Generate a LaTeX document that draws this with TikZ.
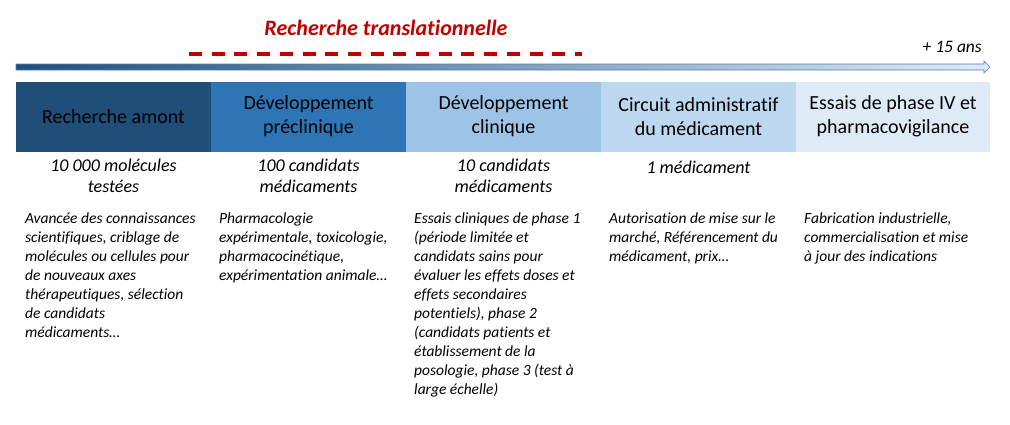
\documentclass[tikz,border=0pt]{standalone}
\usepackage{fontspec}
\setmainfont{Carlito}[Ligatures=NoCommon,Contextuals=NoAlternate]
\usetikzlibrary{positioning}
\definecolor{navy}{RGB}{31,78,121}
\definecolor{midblue}{RGB}{46,117,182}
\definecolor{skyblue}{RGB}{157,195,230}
\definecolor{paleblue}{RGB}{189,215,238}
\definecolor{iceblue}{RGB}{222,235,247}
\definecolor{barline}{RGB}{79,129,189}
\definecolor{darkred}{RGB}{192,0,0}
\begin{document}
\begin{tikzpicture}[x=1pt,y=-1pt,
	phase/.style={minimum width=195pt,minimum height=70pt,inner sep=0pt,outer sep=0pt,align=center,font=\fontsize{20}{24}\selectfont},
	count/.style={anchor=north,inner sep=0pt,align=center,execute at begin node=\strut,font=\fontsize{18}{21}\selectfont\itshape},
	detail/.style={anchor=north west,inner sep=0pt,align=left,execute at begin node=\strut,font=\fontsize{15.5}{19}\selectfont\itshape}]
	\useasboundingbox (0,0) rectangle (1010,424);
	% title and time line
	\node[anchor=base,inner sep=0pt,text=darkred,font=\fontsize{22}{26}\selectfont\bfseries\itshape] (transl) at (386,35) {Recherche translationnelle};
	\draw[darkred,line width=3.3pt,dash pattern=on 13pt off 9.7pt] (189,54) -- (582,54);
	\node[anchor=base east,inner sep=0pt,font=\fontsize{17.5}{20}\selectfont\itshape] (duree) at (982,52) {+ 15 ans};
	\shade[left color=navy,right color=iceblue,draw=barline,line width=0.6pt] (16,64) -- (984,64) -- (984,61) -- (990,67) -- (984,73) -- (984,70) -- (16,70) -- cycle;
	% phases
	\node[phase,fill=navy] (amont) at (113.5,116.5) {Recherche amont};
	\node[phase,fill=midblue] (preclin) at (308.5,116.5) {Développement\\préclinique};
	\node[phase,fill=skyblue] (clin) at (503.5,116.5) {Développement\\clinique};
	\node[phase,fill=paleblue] (admin) at (698.5,116.5) {Circuit administratif\\du médicament};
	\node[phase,fill=iceblue,minimum width=194pt] (pharmaco) at (893,116.5) {Essais de phase IV et\\pharmacovigilance};
	% counts
	\node[count] (namont) at (113.5,158.3) {10 000 molécules\\testées};
	\node[count] (npreclin) at (308.5,158.3) {100 candidats\\médicaments};
	\node[count] (nclin) at (503.5,158.3) {10 candidats\\médicaments};
	\node[count] (nadmin) at (698.5,158.3) {1 médicament};
	% details
	\node[detail] (damont) at (25,212.2) {Avancée des connaissances\\scientifiques, criblage de\\molécules ou cellules pour\\de nouveaux axes\\thérapeutiques, sélection\\de candidats\\médicaments…};
	\node[detail] (dpreclin) at (219,212.2) {Pharmacologie\\expérimentale, toxicologie,\\pharmacocinétique,\\expérimentation animale…};
	\node[detail] (dclin) at (414,212.2) {Essais cliniques de phase 1\\(période limitée et\\candidats sains pour\\évaluer les effets doses et\\effets secondaires\\potentiels), phase 2\\(candidats patients et\\établissement de la\\posologie, phase 3 (test à\\large échelle)};
	\node[detail] (dadmin) at (609,212.2) {Autorisation de mise sur le\\marché, Référencement du\\médicament, prix…};
	\node[detail] (dpharmaco) at (804,212.2) {Fabrication industrielle,\\commercialisation et mise\\à jour des indications};
\end{tikzpicture}
\end{document}
